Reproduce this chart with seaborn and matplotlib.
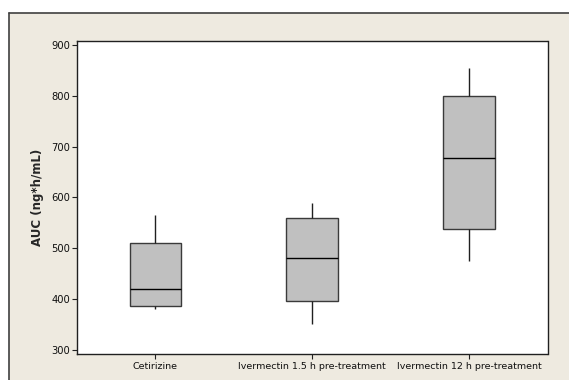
import pandas as pd
import seaborn as sns
import matplotlib.pyplot as plt
from matplotlib.patches import Rectangle
from matplotlib.lines import Line2D

# five-number summaries: min, Q1, median, Q3, max
groups = ["Cetirizine", "Ivermectin 1.5 h pre-treatment", "Ivermectin 12 h pre-treatment"]
cetirizine = [381, 387, 419, 510, 565]
iver_1_5h = [352, 396, 481, 560, 589]
iver_12h = [475, 538, 678, 800, 854]

df = pd.DataFrame({
    "group": [groups[0]] * 5 + [groups[1]] * 5 + [groups[2]] * 5,
    "auc": cetirizine + iver_1_5h + iver_12h,
})

sns.set_style("white")
plt.rcParams['font.family'] = ['DejaVu Sans']

fig = plt.figure(figsize=(5.69, 3.80), dpi=100)
fig.patch.set_facecolor("white")

# beige panel behind the plot, with dark top and left edge
fig.patches.append(Rectangle((9 / 569, 0), 1, 1 - 13 / 380, transform=fig.transFigure,
                             facecolor="#EEEAE0", edgecolor="none", zorder=-2))
fig.lines.append(Line2D([9 / 569, 1], [1 - 13 / 380] * 2, transform=fig.transFigure,
                        color="#404040", lw=1.2, zorder=-1))
fig.lines.append(Line2D([9 / 569] * 2, [0, 1 - 13 / 380], transform=fig.transFigure,
                        color="#404040", lw=1.2, zorder=-1))

ax = fig.add_axes([77 / 569, 1 - 354 / 380, 470.5 / 569, 313 / 380])
ax.set_zorder(1)
ax.set_facecolor("white")

sns.boxplot(data=df, x="group", y="auc", order=groups, ax=ax,
            whis=(0, 100), width=0.33, showcaps=False, color="#C0C0C0",
            boxprops=dict(facecolor="#C0C0C0", edgecolor="#3a3a3a", linewidth=1.0),
            medianprops=dict(color="black", linewidth=1.0),
            whiskerprops=dict(color="#202020", linewidth=1.0),
            flierprops=dict(marker=""))

ax.set_xlim(-0.5, 2.5)
ax.set_ylim(292, 908)
ax.set_yticks([300, 400, 500, 600, 700, 800, 900])
ax.set_xlabel("")
ax.set_ylabel("AUC (ng*h/mL)", fontsize=8.5, fontweight="bold", labelpad=5)

for s in ax.spines.values():
    s.set_color("#202020")
    s.set_linewidth(1.0)

ax.tick_params(axis="y", direction="out", length=3.5, width=0.8, color="#202020",
               labelsize=7.2, pad=1.5, left=True, labelcolor="#101010")
ax.tick_params(axis="x", direction="out", length=3.5, width=0.8, color="#202020",
               labelsize=6.8, pad=2.5, bottom=True, labelcolor="#101010")

fig.savefig("out.png", dpi=100)
